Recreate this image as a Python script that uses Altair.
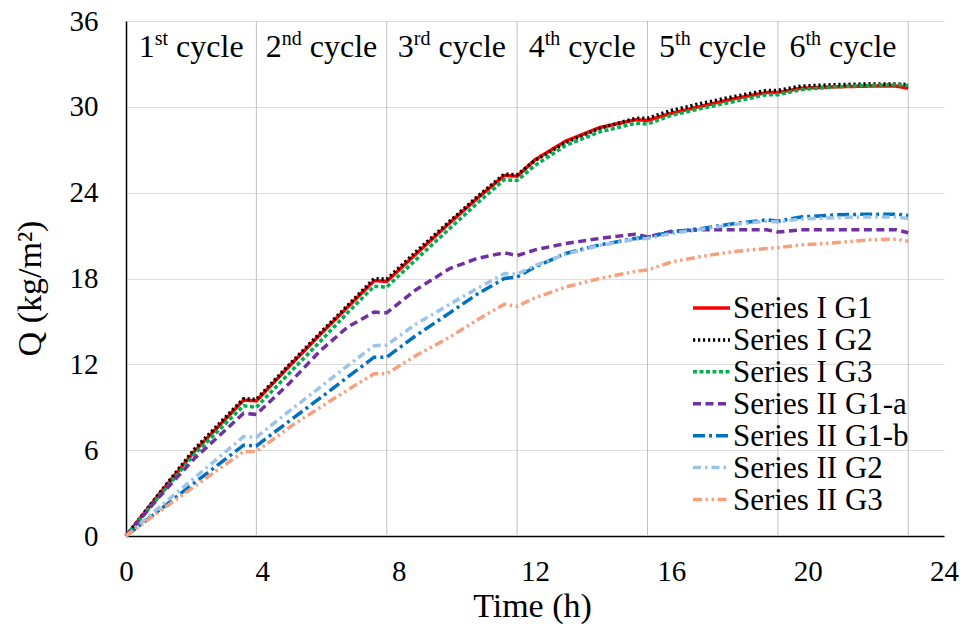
import altair as alt
import pandas as pd

# ---------------- data ----------------
TIME = [0, 1.0, 2.0, 3.45, 3.825, 4.8, 5.7, 6.5, 7.28, 7.65, 8.5, 9.5, 10.3, 11.1, 11.475,
        12.0, 12.9, 13.9, 14.95, 15.3, 16.0, 16.9, 17.9, 18.8, 19.125, 19.8, 20.8, 21.8, 22.6, 22.95]

S1_G1 = [0, 3.0, 5.9, 9.5, 9.45, 11.9, 14.1, 16.0, 17.85, 17.8, 19.7, 21.9, 23.6, 25.2, 25.15,
         26.3, 27.6, 28.55, 29.1, 29.05, 29.55, 30.05, 30.6, 31.0, 31.0, 31.3, 31.4, 31.45, 31.45, 31.3]
S1_G2 = [0, 3.05, 6.05, 9.6, 9.55, 12.0, 14.2, 16.1, 18.0, 17.95, 19.85, 22.0, 23.7, 25.3, 25.25,
         26.25, 27.5, 28.5, 29.2, 29.2, 29.75, 30.25, 30.75, 31.15, 31.15, 31.45, 31.55, 31.6, 31.6, 31.55]
S1_G3 = [0, 2.85, 5.7, 9.1, 9.0, 11.4, 13.6, 15.6, 17.45, 17.4, 19.3, 21.5, 23.25, 24.9, 24.85,
         25.9, 27.3, 28.25, 28.85, 28.8, 29.4, 29.9, 30.4, 30.85, 30.85, 31.2, 31.4, 31.5, 31.55, 31.5]
S2_G1A = [0, 2.8, 5.4, 8.58, 8.5, 10.7, 12.95, 14.6, 15.65, 15.6, 17.2, 18.7, 19.4, 19.8, 19.6,
          20.0, 20.45, 20.8, 21.1, 20.9, 21.3, 21.4, 21.4, 21.4, 21.25, 21.4, 21.4, 21.4, 21.4, 21.2]
S2_G1B = [0, 1.85, 3.7, 6.35, 6.3, 8.05, 9.65, 11.1, 12.5, 12.5, 14.0, 15.6, 16.9, 18.0, 18.1,
          18.8, 19.75, 20.35, 20.8, 20.9, 21.25, 21.5, 21.85, 22.1, 22.0, 22.3, 22.45, 22.5, 22.5, 22.4]
S2_G2 = [0, 2.05, 4.05, 6.95, 6.9, 8.75, 10.4, 11.9, 13.3, 13.35, 14.8, 16.2, 17.3, 18.35, 18.3,
         18.9, 19.7, 20.3, 20.75, 20.8, 21.15, 21.45, 21.8, 22.0, 21.95, 22.15, 22.25, 22.3, 22.3, 22.2]
S2_G3 = [0, 1.75, 3.45, 5.9, 5.9, 7.6, 9.0, 10.2, 11.35, 11.35, 12.6, 13.9, 15.1, 16.2, 16.05,
         16.65, 17.4, 18.0, 18.5, 18.6, 19.15, 19.55, 19.9, 20.1, 20.15, 20.35, 20.5, 20.7, 20.75, 20.6]

SERIES = ["Series I G1", "Series I G2", "Series I G3", "Series II G1-a",
          "Series II G1-b", "Series II G2", "Series II G3"]
VALUES = [S1_G1, S1_G2, S1_G3, S2_G1A, S2_G1B, S2_G2, S2_G3]

CYCLE_LEN = 3.825
CYCLE_NUM = ["1", "2", "3", "4", "5", "6"]
CYCLE_SUP = ["st", "nd", "rd", "th", "th", "th"]

X_TICKS = [0, 4, 8, 12, 16, 20, 24]
Y_TICKS = [0, 6, 12, 18, 24, 30, 36]

# ---------------- styles ----------------
COLORS = ["#FF0000", "#000000", "#00B050", "#7030A0", "#0070C0", "#9DC3E6", "#F8A07D"]
DASHES = [[1, 0], [2.2, 2.8], [4, 2.5], [8, 4.5], [12, 4, 3, 4], [8, 4, 2.5, 4],
          [9, 3.5, 2.5, 3.5, 2.5, 3.5]]
WIDTHS = [3.5, 3.5, 2.5, 2.5, 2.5, 2.5, 2.2]
SERIF = "Liberation Serif"

W, H = 818, 515
PAD_L, PAD_T = 126, 21
PXH = W / 24.0

rows = []
for name, vals in zip(SERIES, VALUES):
    for t, q in zip(TIME, vals):
        rows.append({"series": name, "t": t, "q": q})
df = pd.DataFrame(rows)

bounds = pd.DataFrame({"t": [CYCLE_LEN * (k + 1) for k in range(len(CYCLE_NUM))]})

# cycle label layout (approximate Times metrics, em units)
CW = {"1": .5, "2": .5, "3": .5, "4": .5, "5": .5, "6": .5, "s": .389, "t": .278, "n": .5,
      "d": .5, "r": .333, "h": .5, " ": .25, "c": .444, "y": .5, "l": .278, "e": .444}
FS, SFS = 32, 20
WORD = " cycle"
lab_rows = []
for k, (num, sup) in enumerate(zip(CYCLE_NUM, CYCLE_SUP)):
    wn = sum(CW[c] for c in num) * FS
    ws = sum(CW[c] for c in sup) * SFS
    ww = sum(CW[c] for c in WORD) * FS
    tot = wn + ws + ww
    mid = CYCLE_LEN * (k + 0.5)
    left = mid - (tot / 2) / PXH
    lab_rows.append({"num": num, "sup": sup, "word": "cycle",
                     "x_num": left, "x_sup": left + wn / PXH,
                     "x_word": left + (wn + ws + CW[" "] * FS) / PXH})
labs = pd.DataFrame(lab_rows)

color_scale = alt.Scale(domain=SERIES, range=COLORS)
dash_scale = alt.Scale(domain=SERIES, range=DASHES)
width_scale = alt.Scale(domain=SERIES, range=WIDTHS)

x_enc = alt.X("t:Q", scale=alt.Scale(domain=[0, 24], nice=False),
              axis=alt.Axis(values=X_TICKS, grid=False, ticks=False, domainColor="#000000",
                            domainWidth=1.5, labelFont=SERIF, labelFontSize=29,
                            labelColor="#000000", labelPadding=21, labelFlush=False,
                            title="Time (h)", titleFont=SERIF, titleFontSize=34,
                            titleFontWeight="normal", titleColor="#000000",
                            titleX=406, titleY=70, titleBaseline="middle", titleAlign="center"))
y_enc = alt.Y("q:Q", scale=alt.Scale(domain=[0, 36], nice=False),
              axis=alt.Axis(values=Y_TICKS, grid=True, gridColor="#DDDDDD", gridWidth=1,
                            ticks=False, domainColor="#000000", domainWidth=1.5,
                            labelFont=SERIF, labelFontSize=29, labelColor="#000000",
                            labelPadding=28, title="Q (kg/m²)", titleFont=SERIF,
                            titleFontSize=34, titleFontWeight="normal", titleColor="#000000",
                            titleX=-96, titleY=267, titleBaseline="middle", titleAlign="center"))

lines = alt.Chart(df).mark_line().encode(
    x=x_enc, y=y_enc,
    color=alt.Color("series:N", scale=color_scale, legend=None),
    strokeDash=alt.StrokeDash("series:N", scale=dash_scale, legend=None),
    strokeWidth=alt.StrokeWidth("series:N", scale=width_scale, legend=None),
    order=alt.Order("t:Q"),
)

vgrid = alt.Chart(bounds).mark_rule(color="#C0C0C0", strokeWidth=1).encode(x="t:Q")

num_txt = alt.Chart(labs).mark_text(align="left", baseline="alphabetic", font=SERIF,
                                    fontSize=FS, color="#000000").encode(
    x="x_num:Q", y=alt.value(36), text="num:N")
sup_txt = alt.Chart(labs).mark_text(align="left", baseline="alphabetic", font=SERIF,
                                    fontSize=SFS, color="#000000").encode(
    x="x_sup:Q", y=alt.value(24), text="sup:N")
word_txt = alt.Chart(labs).mark_text(align="left", baseline="alphabetic", font=SERIF,
                                     fontSize=FS, color="#000000").encode(
    x="x_word:Q", y=alt.value(36), text="word:N")

main = alt.layer(vgrid, lines, num_txt, sup_txt, word_txt)

leg_df = pd.DataFrame({"series": SERIES})
leg_y = alt.Y("series:N", scale=alt.Scale(type="point", domain=SERIES, range=[287, 478.5], padding=0),
              axis=None)
leg_rule = alt.Chart(leg_df).mark_rule().encode(
    x=alt.value(567), x2=alt.value(604), y=leg_y,
    color=alt.Color("series:N", scale=color_scale, legend=None),
    strokeDash=alt.StrokeDash("series:N", scale=dash_scale, legend=None),
    strokeWidth=alt.StrokeWidth("series:N", scale=width_scale, legend=None),
)
leg_text = alt.Chart(leg_df).mark_text(align="left", baseline="alphabetic", dy=10.3, font=SERIF,
                                       fontSize=31, color="#000000").encode(
    x=alt.value(607), y=leg_y, text="series:N")
legend = alt.layer(leg_rule, leg_text)

chart = alt.layer(main, legend).resolve_scale(y="independent").properties(
    width=W, height=H,
    autosize=alt.AutoSizeParams(type="none"),
    padding={"left": PAD_L, "top": PAD_T, "right": 963 - PAD_L - W, "bottom": 630 - PAD_T - H},
    background="white",
).configure_view(stroke=None)

chart.save("out.html", embed_options={"renderer": "svg", "actions": False})
